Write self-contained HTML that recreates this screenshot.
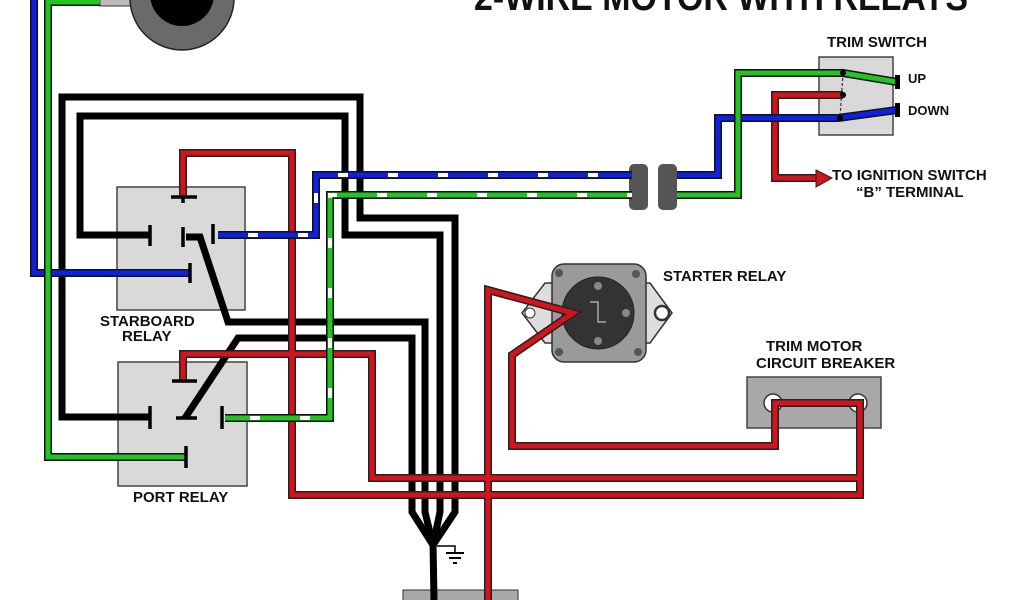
<!DOCTYPE html>
<html><head><meta charset="utf-8"><style>
html,body{margin:0;padding:0;background:#fff;width:1024px;height:600px;overflow:hidden}
svg{display:block}
text{font-family:"Liberation Sans",sans-serif;font-weight:bold;fill:#111}
</style></head><body>
<svg width="1024" height="600" viewBox="0 0 1024 600" xmlns="http://www.w3.org/2000/svg">
<g fill="none" stroke-linejoin="miter" stroke-linecap="butt">
<rect x="100" y="-2" width="40" height="8" fill="#bbb" stroke="#333"/>
<circle cx="182" cy="-2" r="52" fill="#6a6a6a" stroke="#222" stroke-width="1.5"/>
<circle cx="182" cy="-6" r="32" fill="#000"/>
</g>
<text x="474" y="10" font-size="38" textLength="494" lengthAdjust="spacingAndGlyphs">2-WIRE MOTOR WITH RELAYS</text>

<rect x="117" y="187" width="128" height="123" fill="#d9d9d9" stroke="#444" stroke-width="1.5"/>
<rect x="118" y="362" width="129" height="124" fill="#d9d9d9" stroke="#444" stroke-width="1.5"/>
<rect x="819" y="57" width="74" height="78" fill="#d9d9d9" stroke="#444" stroke-width="1.5"/>
<rect x="747" y="377" width="134" height="51" fill="#a8a8a8" stroke="#444" stroke-width="1.5"/>
<circle cx="773" cy="403" r="9" fill="#fff" stroke="#333" stroke-width="1.5"/>
<circle cx="858" cy="403" r="9" fill="#fff" stroke="#333" stroke-width="1.5"/>
<polygon points="522,313 545,283 560,283 560,343 545,343" fill="#ddd" stroke="#333" stroke-width="1.5"/>
<polygon points="672,313 650,283 636,283 636,343 650,343" fill="#ddd" stroke="#333" stroke-width="1.5"/>
<rect x="552" y="264" width="94" height="98" rx="12" fill="#9a9a9a" stroke="#333" stroke-width="1.5"/>
<circle cx="530" cy="313" r="5" fill="#fff" stroke="#333"/>
<circle cx="662" cy="313" r="7" fill="#fff" stroke="#333" stroke-width="2.5"/>
<circle cx="559" cy="273" r="4" fill="#555"/><circle cx="636" cy="274" r="4" fill="#555"/>
<circle cx="559" cy="352" r="4" fill="#555"/><circle cx="638" cy="352" r="4" fill="#555"/>
<circle cx="598" cy="313" r="36" fill="#333" stroke="#222"/>
<circle cx="598" cy="286" r="4" fill="#888"/><circle cx="598" cy="341" r="4" fill="#888"/>
<circle cx="626" cy="313" r="4" fill="#888"/><circle cx="572" cy="313" r="4" fill="#888"/>
<path d="M590,302 H598 V322 H606" stroke="#aaa" stroke-width="1.5" fill="none"/>
<rect x="629" y="164" width="19" height="46" rx="5" fill="#555"/>
<rect x="658" y="164" width="19" height="46" rx="5" fill="#555"/>
<rect x="403" y="590" width="115" height="14" fill="#a8a8a8" stroke="#333"/>

<g fill="none" stroke-linejoin="miter">
<g stroke="#000" stroke-width="7">
<path d="M150,417 H62 V97 H360 V218 H455 V512 L433,545"/>
<path d="M150,235 H80 V116 H345 V235 H440 V512 L433,545"/>
<path d="M186,237 H200 L228,322 H425 V512 L433,545"/>
<path d="M185,418 L238,338 H412 V512 L433,545"/>
<path d="M433,542 L434,600"/>
</g>
<path d="M437,546 H455 V552" stroke="#000" stroke-width="1.5"/>
<path d="M446,553 H464 M449,558 H461 M453,563 H457" stroke="#000" stroke-width="2"/>

<g stroke="#222" stroke-width="8">
<path d="M183,197 V153 H292 V495 H860 V403 H775 V446 H512 V355 L573,313 L488,290 V600"/>
<path d="M183,381 V354 H372 V478 H860"/>
<path d="M843,95 H775 V178 H820"/>
</g>
<g stroke="#d2141c" stroke-width="5">
<path d="M183,197 V153 H292 V495 H860 V403 H775 V446 H512 V355 L573,313 L488,290 V600"/>
<path d="M183,381 V354 H372 V478 H860"/>
<path d="M843,95 H775 V178 H820"/>
</g>
<polygon points="816,170 832,178 816,187" fill="#d2141c" stroke="#222"/>

<g stroke="#111" stroke-width="8">
<path d="M34,0 V273 H190"/>
<path d="M218,235 H316 V175 H632"/>
<path d="M677,175 H718 V118 H838 L897,110"/>
</g>
<g stroke="#1020e0" stroke-width="5">
<path d="M34,0 V273 H190"/>
<path d="M218,235 H316 V175 H632"/>
<path d="M677,175 H718 V118 H838 L897,110"/>
</g>
<path d="M218,235 H316 V175 H632" stroke="#fff" stroke-width="4" stroke-dasharray="10,40" stroke-dashoffset="-30"/>
<g stroke="#111" stroke-width="8">
<path d="M100,2 H48 V457 H186"/>
<path d="M225,418 H330 V195 H632"/>
<path d="M677,195 H738 V73 H843 L897,82"/>
</g>
<g stroke="#22c322" stroke-width="5">
<path d="M100,2 H48 V457 H186"/>
<path d="M225,418 H330 V195 H632"/>
<path d="M677,195 H738 V73 H843 L897,82"/>
</g>
<path d="M225,418 H330 V195 H632" stroke="#fff" stroke-width="4" stroke-dasharray="10,40" stroke-dashoffset="-25"/>
<path d="M843,73 L840,118" stroke="#333" stroke-width="1.2" stroke-dasharray="3,2"/>
</g>
<rect x="895" y="75" width="5" height="14" fill="#000"/>
<rect x="895" y="103" width="5" height="14" fill="#000"/>
<circle cx="843" cy="73" r="3" fill="#000"/><circle cx="843" cy="95" r="3" fill="#000"/><circle cx="840" cy="118" r="3" fill="#000"/>

<g stroke="#000" stroke-width="3.5" fill="none">
<path d="M171,197 H197 M183,197 V203"/>
<path d="M150,225 V246 M183,227 V247 M213,224 V244 M190,263 V283"/>
<path d="M172,381 H197"/>
<path d="M150,406 V429 M176,418 H197 M222,406 V429 M186,446 V468"/>
</g>

<text x="827" y="47" font-size="15">TRIM SWITCH</text>
<text x="908" y="83" font-size="13">UP</text>
<text x="908" y="115" font-size="13">DOWN</text>
<text x="832" y="180" font-size="15">TO IGNITION SWITCH</text>
<text x="856" y="197" font-size="15">“B” TERMINAL</text>
<text x="663" y="281" font-size="15">STARTER RELAY</text>
<text x="766" y="351" font-size="15">TRIM MOTOR</text>
<text x="756" y="368" font-size="15">CIRCUIT BREAKER</text>
<text x="100" y="326" font-size="15">STARBOARD</text>
<text x="122" y="341" font-size="15">RELAY</text>
<text x="133" y="502" font-size="15">PORT RELAY</text>
</svg>
</body></html>
